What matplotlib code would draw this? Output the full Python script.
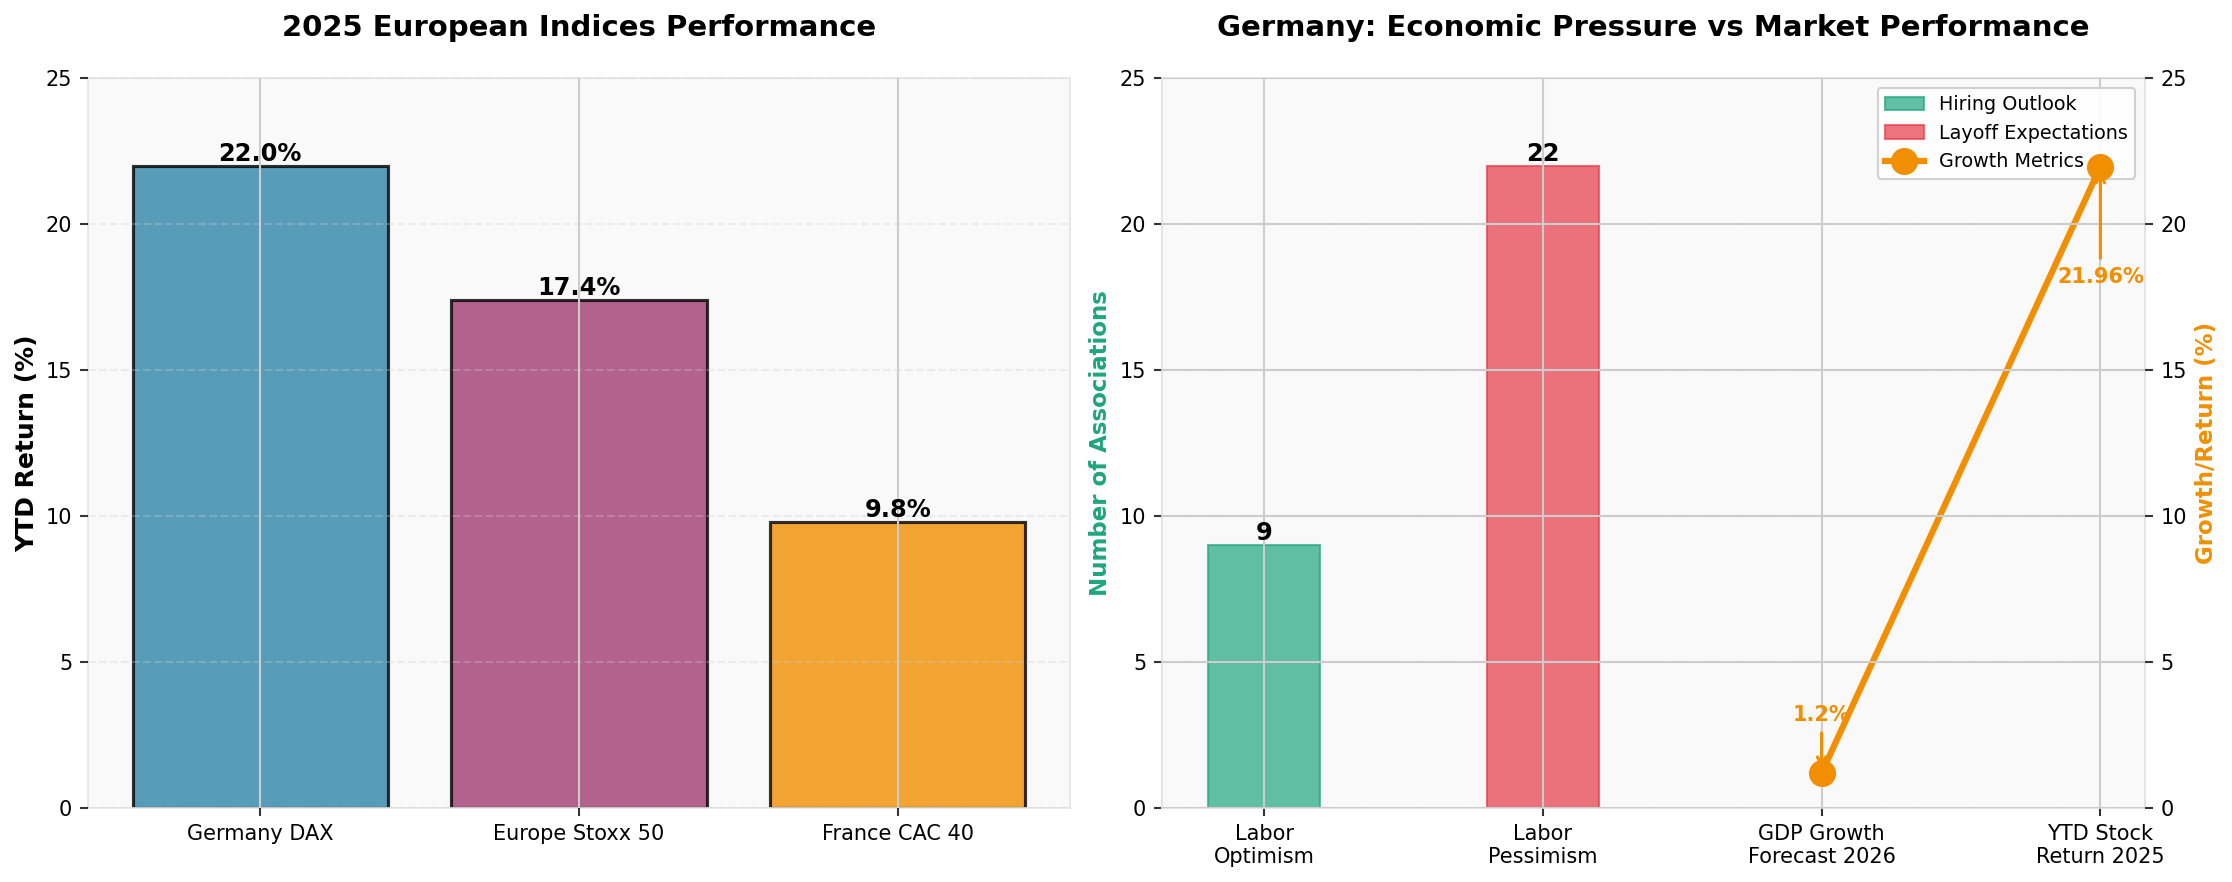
import matplotlib
matplotlib.use("Agg")
import matplotlib.pyplot as plt
from matplotlib.patches import Patch
from matplotlib.lines import Line2D

# ---- data ----
indices = ["Germany DAX", "Europe Stoxx 50", "France CAC 40"]
ytd_returns = [22.0, 17.4, 9.8]
index_colors = ["#2E86AB", "#A23B72", "#F18F01"]

labor_labels = ["Labor\nOptimism", "Labor\nPessimism"]
labor_counts = [9, 22]
growth_labels = ["GDP Growth\nForecast 2026", "YTD Stock\nReturn 2025"]
growth_values = [1.2, 21.96]

GREEN = "#1FA67F"
RED = "#E63946"
ORANGE = "#F18F01"
FACE = "#f9f9f9"
SPINE = "#e4e4e4"
GRID = "#cccccc"

W, H = 2232, 882
fig = plt.figure(figsize=(W / 150, H / 150), dpi=150)

def box(l, r, t, b):
    return [l / W, 1 - b / H, (r - l) / W, (b - t) / H]

# ---- left chart ----
ax1 = fig.add_axes(box(88, 1070, 78, 808))
ax1.set_facecolor(FACE)
x1 = list(range(len(indices)))
bars = ax1.bar(x1, ytd_returns, width=0.8, color=index_colors, alpha=0.8,
               edgecolor="black", linewidth=1.5)
for b, v in zip(bars, ytd_returns):
    ax1.text(b.get_x() + b.get_width() / 2, v, f"{v:.1f}%", ha="center", va="bottom",
             fontsize=11.5, fontweight="bold")
ax1.set_xticks(x1)
ax1.set_xticklabels(indices, fontsize=10)
ax1.set_ylim(0, 25)
ax1.set_yticks([0, 5, 10, 15, 20, 25])
ax1.tick_params(axis="y", labelsize=10)
ax1.set_ylabel("YTD Return (%)", fontsize=12, fontweight="bold", labelpad=3)
ax1.set_title("2025 European Indices Performance", fontsize=14, fontweight="bold", pad=20)
ax1.set_axisbelow(False)
ax1.grid(axis="x", color=GRID, linewidth=1)
ax1.grid(axis="y", color=GRID, linestyle="--", linewidth=1, alpha=0.3)
for s in ax1.spines.values():
    s.set_color(SPINE)
ax1.tick_params(length=4, width=1, color="#333333")

# ---- right chart ----
ax2 = fig.add_axes(box(1162, 2145, 78, 808))
ax2.set_facecolor(FACE)
xb = [0, 1]
ax2.bar(xb[0], labor_counts[0], width=0.4, color=GREEN, alpha=0.7, edgecolor=GREEN, linewidth=1)
ax2.bar(xb[1], labor_counts[1], width=0.4, color=RED, alpha=0.7, edgecolor=RED, linewidth=1)
for xi, v in zip(xb, labor_counts):
    ax2.text(xi, v, f"{v}", ha="center", va="bottom", fontsize=11.5, fontweight="bold")
ax2.set_ylim(0, 25)
ax2.set_yticks([0, 5, 10, 15, 20, 25])
ax2.tick_params(axis="y", labelsize=10)
ax2.set_ylabel("Number of Associations", fontsize=11, fontweight="bold", color=GREEN)
ax2.set_title("Germany: Economic Pressure vs Market Performance", fontsize=14,
              fontweight="bold", pad=20)
ax2.grid(axis="x", color=GRID, linewidth=1)
ax2.grid(axis="y", color=GRID, linestyle="--", linewidth=1, alpha=0.3)
ax2.set_axisbelow(False)

ax3 = ax2.twinx()
xg = [2, 3]
ax3.plot(xg, growth_values, color=ORANGE, linewidth=3, marker="o", markersize=12)
ax3.set_ylim(0, 25)
ax3.set_yticks([0, 5, 10, 15, 20, 25])
ax3.tick_params(axis="y", labelsize=10)
ax3.set_ylabel("Growth/Return (%)", fontsize=11, fontweight="bold", color=ORANGE)
ax3.grid(axis="y", color=GRID, linewidth=1)
ax3.set_axisbelow(False)

ax2.set_xlim(-0.366, 3.16)
ax2.set_xticks(xb + xg)
ax2.set_xticklabels(labor_labels + growth_labels, fontsize=10)

ax3.annotate(f"{growth_values[0]}%", xy=(xg[0], growth_values[0]), xytext=(xg[0], 3.2),
             ha="center", va="center", fontsize=10, fontweight="bold", color=ORANGE,
             arrowprops=dict(arrowstyle="->", color=ORANGE, lw=1.5))
ax3.annotate(f"{growth_values[1]}%", xy=(xg[1], growth_values[1]), xytext=(xg[1], 18.2),
             ha="center", va="center", fontsize=10, fontweight="bold", color=ORANGE,
             arrowprops=dict(arrowstyle="->", color=ORANGE, lw=1.5))

for a in (ax2, ax3):
    for s in a.spines.values():
        s.set_color(SPINE)
    a.tick_params(length=4, width=1, color="#333333")

handles = [Patch(facecolor=GREEN, alpha=0.7, edgecolor=GREEN, label="Hiring Outlook"),
           Patch(facecolor=RED, alpha=0.7, edgecolor=RED, label="Layoff Expectations"),
           Line2D([0], [0], color=ORANGE, linewidth=3, marker="o", markersize=12,
                  label="Growth Metrics")]
ax2.legend(handles=handles, loc="upper right", fontsize=9.2, framealpha=0.9)

fig.savefig("out.png", dpi=150, facecolor="white")
